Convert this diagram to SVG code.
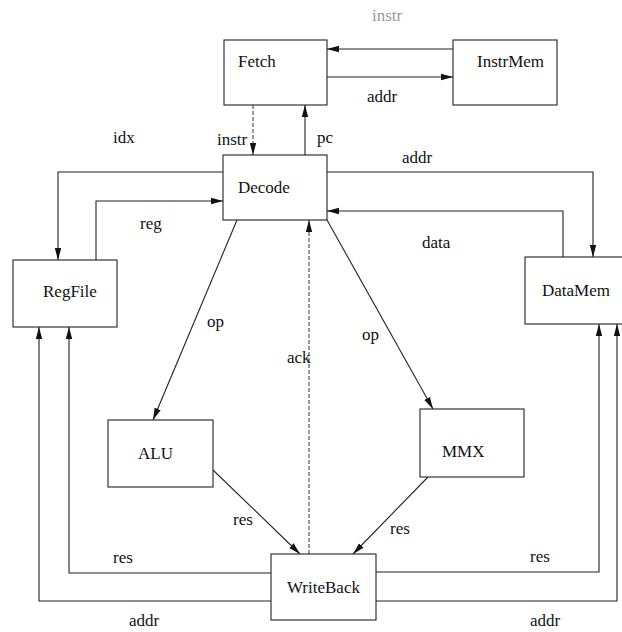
<svg xmlns="http://www.w3.org/2000/svg" width="622" height="632" viewBox="0 0 622 632">
  <style>
    .box { fill: #ffffff; stroke: #222222; stroke-width: 1.1; }
    .lbl { font-family: "Liberation Serif", "Times New Roman", serif; font-size: 17px; fill: #111111; }
    .faint { fill: #9a9a9a; }
    .edge { fill: none; stroke: #222222; stroke-width: 1.1; }
    .dash { stroke-dasharray: 4 2; stroke: #444444; }
  </style>
  <defs>
    <marker id="arr" viewBox="0 0 12 8" refX="12" refY="4" markerWidth="12" markerHeight="8" markerUnits="userSpaceOnUse" orient="auto">
      <path d="M0,0.8 L12,4 L0,7.2 Z" fill="#111111"/>
    </marker>
  </defs>
  <rect width="622" height="632" fill="#ffffff"/>

  <g id="connectors">
    <path class="edge" d="M453,49 L327,49" marker-end="url(#arr)"/>
    <path class="edge" d="M327,77 L453,77" marker-end="url(#arr)"/>
    <path class="edge dash" d="M253,105 L253,155" marker-end="url(#arr)"/>
    <path class="edge" d="M305,155 L305,105" marker-end="url(#arr)"/>
    <path class="edge" d="M223,172 L58,172 L58,260" marker-end="url(#arr)"/>
    <path class="edge" d="M96,260 L96,201 L223,201" marker-end="url(#arr)"/>
    <path class="edge" d="M327,172 L593,172 L593,257" marker-end="url(#arr)"/>
    <path class="edge" d="M563,257 L563,211 L327,211" marker-end="url(#arr)"/>
    <path class="edge" d="M237,220 L153,420" marker-end="url(#arr)"/>
    <path class="edge" d="M327,220 L433,409" marker-end="url(#arr)"/>
    <path class="edge dash" d="M309,554 L309,220" marker-end="url(#arr)"/>
    <path class="edge" d="M213,470 L300,554" marker-end="url(#arr)"/>
    <path class="edge" d="M428,477 L353,554" marker-end="url(#arr)"/>
    <path class="edge" d="M271,573 L69,573 L69,327" marker-end="url(#arr)"/>
    <path class="edge" d="M271,601 L39,601 L39,327" marker-end="url(#arr)"/>
    <path class="edge" d="M376,572 L599,572 L599,324" marker-end="url(#arr)"/>
    <path class="edge" d="M376,601 L617,601 L617,324" marker-end="url(#arr)"/>

    <text class="lbl faint" x="372" y="21">instr</text>
    <text class="lbl" x="367" y="102">addr</text>
    <text class="lbl" x="217" y="145">instr</text>
    <text class="lbl" x="317" y="143">pc</text>
    <text class="lbl" x="113" y="143">idx</text>
    <text class="lbl" x="140" y="229">reg</text>
    <text class="lbl" x="402" y="163">addr</text>
    <text class="lbl" x="422" y="248">data</text>
    <text class="lbl" x="207" y="327">op</text>
    <text class="lbl" x="362" y="340">op</text>
    <text class="lbl" x="287" y="363">ack</text>
    <text class="lbl" x="233" y="525">res</text>
    <text class="lbl" x="390" y="534">res</text>
    <text class="lbl" x="113" y="563">res</text>
    <text class="lbl" x="129" y="626">addr</text>
    <text class="lbl" x="530" y="562">res</text>
    <text class="lbl" x="530" y="626">addr</text>
  </g>

  <g id="fetch">
    <rect class="box" x="224" y="40" width="103" height="65"/>
    <text class="lbl" x="238" y="67">Fetch</text>
  </g>
  <g id="instrmem">
    <rect class="box" x="453" y="40" width="104" height="65"/>
    <text class="lbl" x="477" y="67">InstrMem</text>
  </g>
  <g id="decode">
    <rect class="box" x="223" y="155" width="104" height="65"/>
    <text class="lbl" x="238" y="193">Decode</text>
  </g>
  <g id="regfile">
    <rect class="box" x="13" y="260" width="104" height="67"/>
    <text class="lbl" x="43" y="297">RegFile</text>
  </g>
  <g id="datamem">
    <rect class="box" x="525" y="257" width="100" height="67"/>
    <text class="lbl" x="542" y="296">DataMem</text>
  </g>
  <g id="alu">
    <rect class="box" x="108" y="420" width="105" height="67"/>
    <text class="lbl" x="138" y="459">ALU</text>
  </g>
  <g id="mmx">
    <rect class="box" x="420" y="409" width="104" height="68"/>
    <text class="lbl" x="442" y="457">MMX</text>
  </g>
  <g id="writeback">
    <rect class="box" x="271" y="554" width="105" height="66"/>
    <text class="lbl" x="287" y="593">WriteBack</text>
  </g>
</svg>
